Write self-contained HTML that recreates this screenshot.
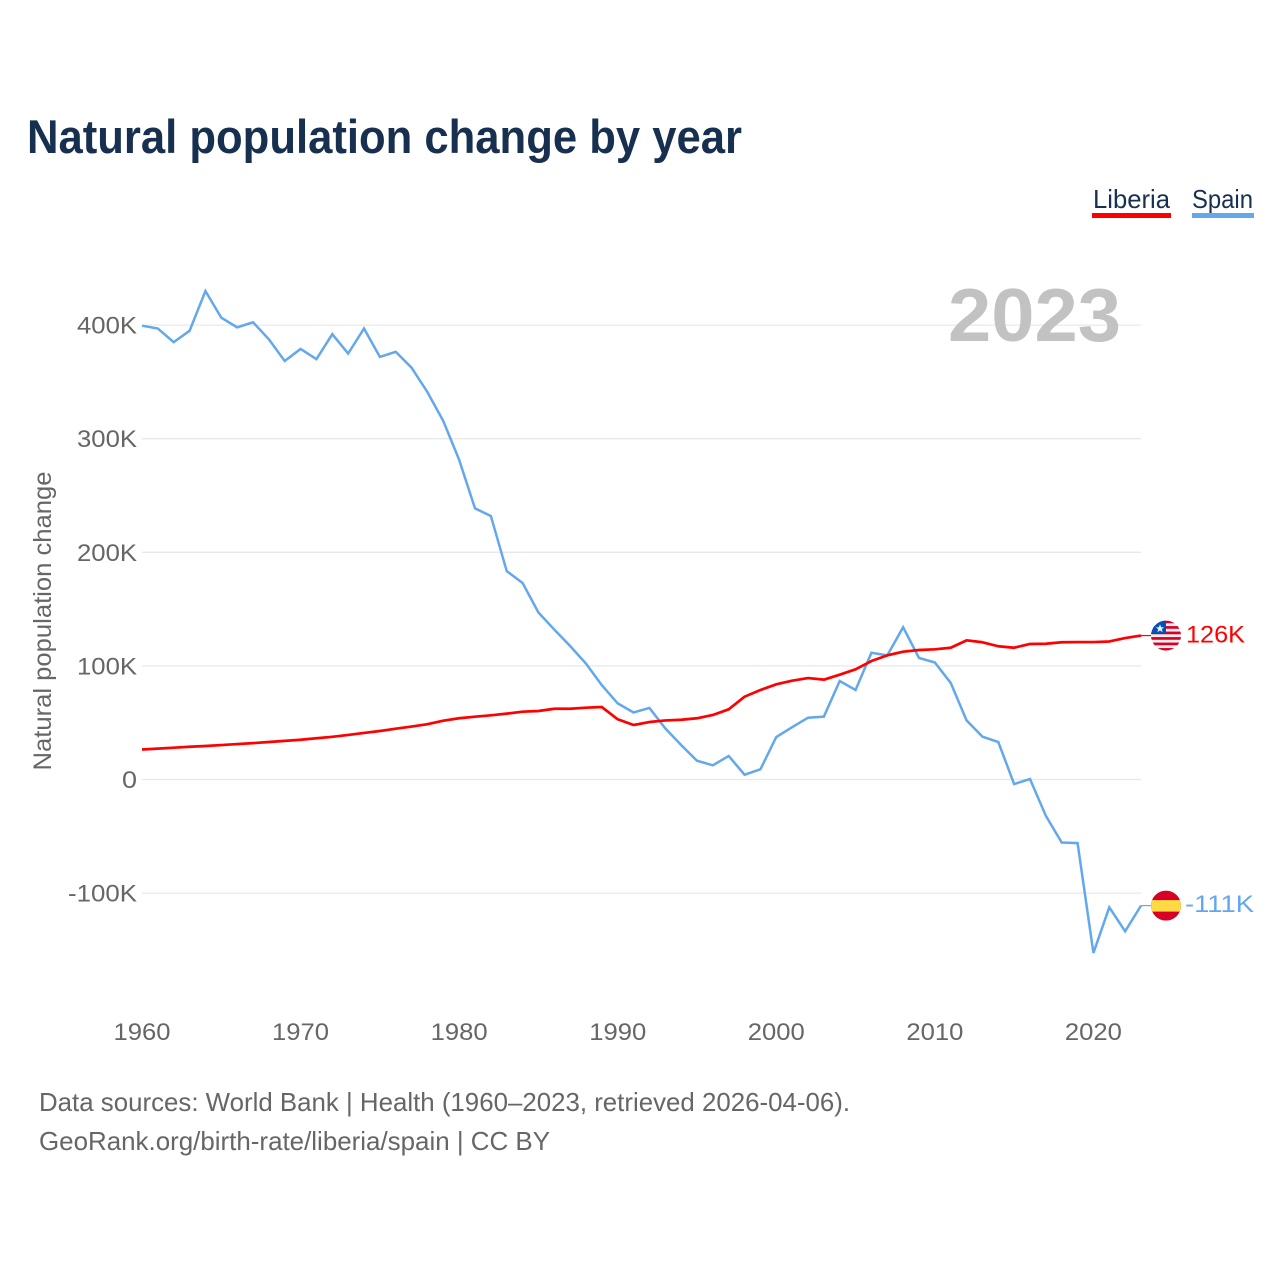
<!DOCTYPE html>
<html lang="en">
<head>
<meta charset="utf-8">
<title>Natural population change by year</title>
<style>
html,body{margin:0;padding:0;background:#fff;width:1280px;height:1280px;overflow:hidden}
svg{display:block}
text{font-family:"Liberation Sans",sans-serif}
</style>
</head>
<body>
<svg id="chart" xmlns="http://www.w3.org/2000/svg" width="1280" height="1280" viewBox="0 0 1280 1280">
  <defs>
    <clipPath id="flag-clip-a"><circle cx="0" cy="0" r="15"/></clipPath>
  </defs>
  <rect x="0" y="0" width="1280" height="1280" fill="#fff"/>
  <text x="27" y="153" font-size="47" font-weight="700" fill="#18304f" textLength="715" lengthAdjust="spacingAndGlyphs">Natural population change by year</text>

  <g>
    <g>
      <text x="1093" y="208" font-size="26" fill="#18304f" textLength="77" lengthAdjust="spacingAndGlyphs">Liberia</text>
      <rect x="1092" y="213" width="79" height="5" fill="#ff0000"/>
    </g>
    <g>
      <text x="1192" y="208" font-size="26" fill="#18304f" textLength="61" lengthAdjust="spacingAndGlyphs">Spain</text>
      <rect x="1192" y="213" width="62" height="5" fill="#63a8ec"/>
    </g>
  </g>

  <g id="grid"></g>
  <text x="948" y="341" font-size="75" font-weight="700" fill="#c2c2c2" textLength="173" lengthAdjust="spacingAndGlyphs">2023</text>
  <g id="y-ticks"></g>
  <g id="x-ticks"></g>
  <text transform="translate(51,621) rotate(-90)" text-anchor="middle" font-size="25" fill="#666" textLength="299" lengthAdjust="spacingAndGlyphs">Natural population change</text>
  <g id="series"></g>

  <g id="flag-liberia">
    <g clip-path="url(#flag-clip-a)">
      <rect x="-15" y="-15" width="30" height="30" fill="#f0f0f0"/>
      <rect x="-15" y="-15" width="30" height="2.7" fill="#d80027"/>
      <rect x="-15" y="-9.5" width="30" height="2.7" fill="#d80027"/>
      <rect x="-15" y="-4" width="30" height="2.7" fill="#d80027"/>
      <rect x="-15" y="1.5" width="30" height="2.7" fill="#d80027"/>
      <rect x="-15" y="7" width="30" height="2.7" fill="#d80027"/>
      <rect x="-15" y="12.5" width="30" height="2.7" fill="#d80027"/>
      <rect x="-15" y="-15" width="15" height="13" fill="#0052b4"/>
      <polygon points="-6,-11.2 -4.8,-8.3 -1.9,-8.3 -4.2,-6.4 -3.4,-3.5 -6,-5.1 -8.6,-3.5 -7.8,-6.4 -10.1,-8.3 -7.2,-8.3" fill="#f0f0f0"/>
    </g>
  </g>
  <g id="flag-spain">
    <g clip-path="url(#flag-clip-a)">
      <rect x="-15" y="-15" width="30" height="30" fill="#d80027"/>
      <rect x="-15" y="-5.5" width="30" height="11.5" fill="#ffda44"/>
    </g>
  </g>
  <g id="end-labels"></g>

  <text x="39" y="1111" font-size="26" fill="#666" textLength="811" lengthAdjust="spacingAndGlyphs">Data sources: World Bank | Health (1960–2023, retrieved 2026-04-06).</text>
  <text x="39" y="1150" font-size="26" fill="#666" textLength="511" lengthAdjust="spacingAndGlyphs">GeoRank.org/birth-rate/liberia/spain | CC BY</text>
</svg>
<script>
const startYear = 1960;
const endYear = 2023;
const xTickYears = [1960, 1970, 1980, 1990, 2000, 2010, 2020];
const yTickValues = [400, 300, 200, 100, 0, -100];
const yTickLabels = ["400K", "300K", "200K", "100K", "0", "-100K"];
const liberiaValues = [
  26.4, 27.2, 28.0, 28.8, 29.5, 30.3, 31.2, 32.0, 33.0, 34.0,
  35.0, 36.3, 37.6, 39.2, 41.0, 42.7, 44.7, 46.6, 48.7, 51.8,
  53.9, 55.3, 56.5, 58.0, 59.7, 60.3, 62.3, 62.3, 63.2, 63.8,
  53.0, 48.0, 50.6, 52.0, 52.6, 53.9, 56.8, 61.8, 72.9, 78.8,
  83.8, 87.0, 89.3, 87.9, 92.3, 97.0, 104.3, 109.3, 112.5, 114.0,
  114.6, 116.0, 122.5, 120.8, 117.3, 116.0, 119.3, 119.5, 120.8, 121.0,
  121.0, 121.5, 124.5, 126.7
];
const spainValues = [
  399.5, 397.0, 385.0, 395.0, 430.0, 406.5, 398.0, 402.5, 387.5, 368.4,
  379.0, 370.0, 392.0, 375.0, 397.0, 372.0, 376.5, 362.5, 341.0, 315.6,
  281.4, 238.7, 232.0, 183.5, 173.0, 147.0, 132.0, 117.5, 102.0, 83.0,
  67.0, 59.0, 63.0, 45.0, 30.4, 16.5, 12.5, 20.7, 4.2, 9.0,
  37.4, 46.0, 54.4, 55.3, 86.7, 78.8, 111.6, 109.3, 134.0, 107.0,
  103.0, 85.0, 52.0, 37.7, 33.0, -4.0, 0.4, -32.0, -55.5, -56.0,
  -152.7, -112.5, -133.6, -111.0
];
const liberiaEndLabel = "126K";
const spainEndLabel = "-111K";

const NS = "http://www.w3.org/2000/svg";
function xScale(year) { return 142 + (year - startYear) * (1141 - 142) / (endYear - startYear); }
function yScale(value) { return 779.5 - value * 1.136; }
function make(tag, attrs, text) {
  const el = document.createElementNS(NS, tag);
  for (const k in attrs) el.setAttribute(k, attrs[k]);
  if (text !== undefined) el.textContent = text;
  return el;
}
function textWidth(label) {
  let w = 0;
  for (const c of label) w += c === "-" ? 9 : 15;
  return w;
}

const grid = document.getElementById("grid");
const yTicks = document.getElementById("y-ticks");
yTickValues.forEach(function (v, i) {
  const y = yScale(v);
  const line = make("line", { x1: 142, x2: 1141, y1: y, y2: y, stroke: "#e8e8e8", "stroke-width": 1.3 });
  
  
  grid.appendChild(line);
  const label = make("text", { x: 137, y: y + 8.5, "text-anchor": "end", "font-size": 24, fill: "#666", textLength: textWidth(yTickLabels[i]), lengthAdjust: "spacingAndGlyphs" }, yTickLabels[i]);
  
  
  yTicks.appendChild(label);
});

const xTicks = document.getElementById("x-ticks");
xTickYears.forEach(function (year) {
  const label = make("text", { x: xScale(year), y: 1040, "text-anchor": "middle", "font-size": 24, fill: "#666", textLength: 57, lengthAdjust: "spacingAndGlyphs" }, String(year));
  
  
  xTicks.appendChild(label);
});

function linePoints(values) {
  return values.map(function (v, i) { return xScale(startYear + i).toFixed(2) + "," + yScale(v).toFixed(2); }).join(" ");
}
const seriesGroup = document.getElementById("series");

const spainLine = make("polyline", { points: linePoints(spainValues), fill: "none", stroke: "#63a8ec", "stroke-width": 2.5, "stroke-linejoin": "miter" });


seriesGroup.appendChild(spainLine);

const liberiaLine = make("polyline", { points: linePoints(liberiaValues), fill: "none", stroke: "#ff0000", "stroke-width": 2.7, "stroke-linejoin": "round" });


seriesGroup.appendChild(liberiaLine);

const liberiaEndY = yScale(liberiaValues[liberiaValues.length - 1]);
const spainEndY = yScale(spainValues[spainValues.length - 1]);

const liberiaConnector = make("line", { x1: 1141, x2: 1152, y1: liberiaEndY, y2: liberiaEndY, stroke: "#ff0000", "stroke-width": 1.2 });


seriesGroup.appendChild(liberiaConnector);

const spainConnector = make("line", { x1: 1141, x2: 1152, y1: spainEndY, y2: spainEndY, stroke: "#63a8ec", "stroke-width": 1.2 });


seriesGroup.appendChild(spainConnector);

document.getElementById("flag-liberia").setAttribute("transform", "translate(1166," + liberiaEndY + ")");
document.getElementById("flag-spain").setAttribute("transform", "translate(1166," + spainEndY + ")");

const endLabels = document.getElementById("end-labels");
const liberiaText = make("text", { x: 1186, y: liberiaEndY + 7, "font-size": 24, fill: "#ff0000", textLength: 59, lengthAdjust: "spacingAndGlyphs" }, liberiaEndLabel);


endLabels.appendChild(liberiaText);

const spainText = make("text", { x: 1185, y: spainEndY + 6.5, "font-size": 24, fill: "#63a8ec", textLength: 69, lengthAdjust: "spacingAndGlyphs" }, spainEndLabel);


endLabels.appendChild(spainText);
</script>
</body>
</html>
